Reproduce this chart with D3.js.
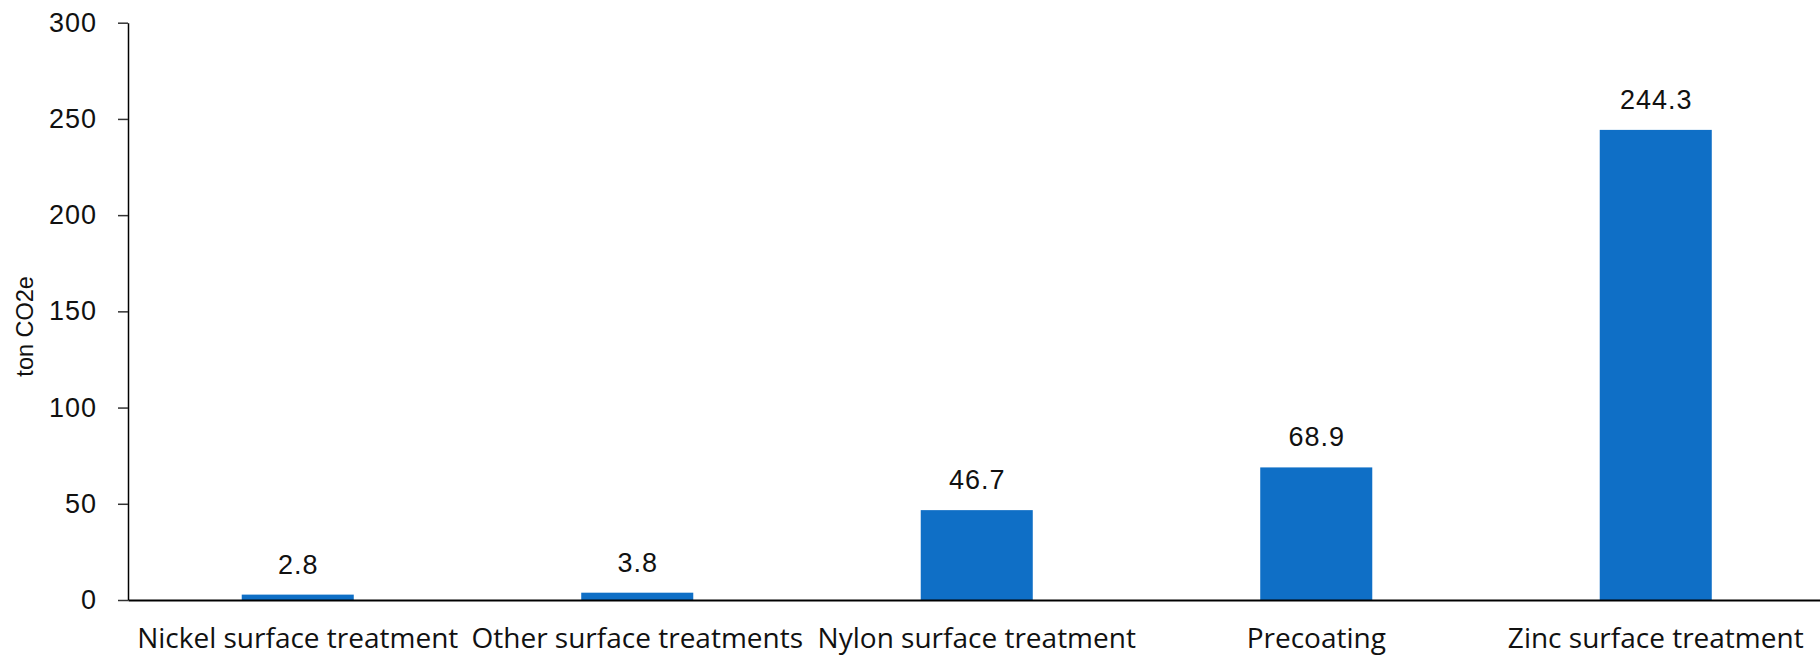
<!DOCTYPE html>
<html>
<head>
<meta charset="utf-8">
<script src="https://cdn.jsdelivr.net/npm/d3@7"></script>
<style>
  html, body { margin: 0; padding: 0; background: #fff; }
  svg { display: block; }
</style>
</head>
<body>
<svg id="chart" width="1820" height="658"></svg>
<script>
// Emissions by surface treatment process (ton CO2e)
const categories = [
  "Nickel surface treatment",
  "Other surface treatments",
  "Nylon surface treatment",
  "Precoating",
  "Zinc surface treatment"
];
const values = [2.8, 3.8, 46.7, 68.9, 244.3];
const yTicks = [0, 50, 100, 150, 200, 250, 300];
const yTitle = "ton CO2e";

const svg = d3.select("#chart");
const margin = { left: 128, top: 22.7, bottom: 600, right: 1825.5 };

const x = d3.scaleBand()
  .domain(categories)
  .range([margin.left, margin.right])
  .paddingInner(0.67)
  .paddingOuter(0.335);

const y = d3.scaleLinear()
  .domain([0, 300])
  .range([margin.bottom, margin.top]);

const barColor = "#0F6FC6";
const numFont = "'Liberation Sans', Arial, sans-serif";
const catFont = "'Open Sans', sans-serif";

// Bars
svg.append("g")
  .selectAll("rect")
  .data(values)
  .join("rect")
  .attr("x", (d, i) => x(categories[i]))
  .attr("width", x.bandwidth())
  .attr("y", d => y(d))
  .attr("height", d => y(0) - y(d))
  .attr("fill", barColor);

// Value labels above bars
svg.append("g")
  .selectAll("text")
  .data(values)
  .join("text")
  .attr("x", (d, i) => x(categories[i]) + x.bandwidth() / 2 + 0.5)
  .attr("y", d => y(d) - 21)
  .attr("text-anchor", "middle")
  .style("font-family", numFont)
  .style("font-size", "27px")
  .style("letter-spacing", "1px")
  .attr("fill", "#111")
  .text(d => d.toFixed(1));

// Y axis
const yAxis = svg.append("g")
  .attr("transform", `translate(${margin.left},0)`)
  .call(d3.axisLeft(y).tickValues(yTicks).tickSize(10).tickPadding(21).tickSizeOuter(0));
yAxis.select(".domain").attr("stroke", "#000").attr("stroke-width", 1.5);
yAxis.selectAll(".tick line").attr("stroke", "#333").attr("stroke-width", 1.5);
yAxis.selectAll(".tick text")
  .style("font-family", numFont)
  .style("font-size", "27px")
  .style("letter-spacing", "1px")
  .attr("fill", "#111");

// X axis baseline and category labels
const xAxis = svg.append("g")
  .attr("transform", `translate(0,${margin.bottom})`)
  .call(d3.axisBottom(x).tickSize(0).tickPadding(0).tickSizeOuter(0));
xAxis.select(".domain").attr("stroke", "#000").attr("stroke-width", 2);
xAxis.selectAll(".tick text")
  .attr("dy", null)
  .attr("y", 48)
  .style("font-family", catFont)
  .style("font-size", "28px")
  .attr("fill", "#111");

// Y axis title
svg.append("text")
  .attr("transform", `translate(33,${(margin.top + margin.bottom) / 2 + 15}) rotate(-90)`)
  .attr("text-anchor", "middle")
  .style("font-family", numFont)
  .style("font-size", "23.5px")
  .attr("fill", "#111")
  .text(yTitle);
</script>
</body>
</html>
